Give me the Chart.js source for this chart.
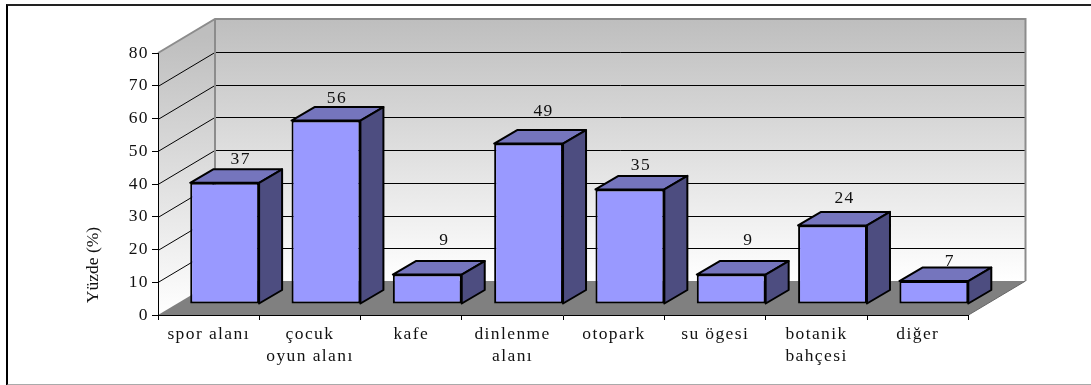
<!DOCTYPE html>
<html lang="tr">
<head>
    <meta charset="UTF-8">
    <title>Yüzde (%)</title>
    <script src="https://cdn.jsdelivr.net/npm/chart.js"></script>
    <style>
        html, body { margin: 0; padding: 0; background: #fff; overflow: hidden; }
        #frame {
            position: absolute; left: 6px; top: 4px; right: 0; height: 378px;
            border-left: 2px solid #000; border-top: 2px solid #222; border-bottom: 2px solid #aaa;
        }
        #myChart { position: absolute; left: 0; top: 0; }
    </style>
</head>
<body>
<div id="frame"></div>
<canvas id="myChart" width="1091" height="385"></canvas>

<script>
    const categories = [
        'spor alanı', ['çocuk', 'oyun alanı'], 'kafe', ['dinlenme', 'alanı'],
        'otopark', 'su ögesi', ['botanik', 'bahçesi'], 'diğer'
    ];
    const values = [37, 56, 9, 49, 35, 9, 24, 7];
    const yTicks = [0, 10, 20, 30, 40, 50, 60, 70, 80];
    // value labels do not sit evenly above the bars in the original
    const labelShiftX = [16, 11, 17, 15, 11, 17, 12, 16];
    const labelShiftY = [10, 9, 21, 19, 10, 21, 13, 6];

    const serif = '"Liberation Serif", "Times New Roman", serif';
    const wallDx = 57, wallDy = 34;   // depth of the floor
    const barDx = 16, barDy = 11;     // front face of bars, from the axis plane
    const sideDx = 23, sideDy = 13.5; // depth of one bar

    function poly(ctx, pts, fill, stroke, lw) {
        ctx.beginPath();
        pts.forEach((p, i) => i ? ctx.lineTo(p[0], p[1]) : ctx.moveTo(p[0], p[1]));
        ctx.closePath();
        if (fill) { ctx.fillStyle = fill; ctx.fill(); }
        if (stroke) { ctx.strokeStyle = stroke; ctx.lineWidth = lw; ctx.stroke(); }
    }

    const box3d = {
        id: 'box3d',
        beforeDraw(chart) {
            const ctx = chart.ctx, a = chart.chartArea, y = chart.scales.y;
            ctx.letterSpacing = '1.4px';
            const l = a.left, r = a.right, t = a.top, b = a.bottom;

            ctx.save();
            const grad = ctx.createLinearGradient(0, t - wallDy, 0, b - wallDy);
            grad.addColorStop(0, '#bebebe');
            grad.addColorStop(1, '#ffffff');
            const sideGrad = ctx.createLinearGradient(0, t - wallDy / 2, 0, b);
            sideGrad.addColorStop(0, '#bebebe');
            sideGrad.addColorStop(1, '#ffffff');

            // walls and floor
            poly(ctx, [[l, t], [l + wallDx, t - wallDy], [l + wallDx, b - wallDy], [l, b]], sideGrad);
            poly(ctx, [[l + wallDx, t - wallDy], [r + wallDx, t - wallDy], [r + wallDx, b - wallDy], [l + wallDx, b - wallDy]], grad);
            poly(ctx, [[l, b], [r, b], [r + wallDx, b - wallDy], [l + wallDx, b - wallDy]], '#808080');

            // grid lines run along both walls
            ctx.strokeStyle = '#000';
            ctx.lineWidth = 1;
            yTicks.forEach(v => {
                if (v === 0 || v === 80) return;
                const py = Math.round(y.getPixelForValue(v)) + 0.5;
                ctx.beginPath();
                ctx.moveTo(l, py);
                ctx.lineTo(l + wallDx, py - wallDy);
                ctx.lineTo(r + wallDx, py - wallDy);
                ctx.stroke();
            });

            // wall edges
            ctx.strokeStyle = '#8c8c8c';
            ctx.lineWidth = 2;
            ctx.beginPath();
            ctx.moveTo(l, t);
            ctx.lineTo(l + wallDx, t - wallDy);
            ctx.lineTo(r + wallDx, t - wallDy);
            ctx.lineTo(r + wallDx, b - wallDy);
            ctx.moveTo(l + wallDx, t - wallDy);
            ctx.lineTo(l + wallDx, b - wallDy);
            ctx.stroke();
            ctx.lineWidth = 1;
            ctx.strokeStyle = '#666';
            ctx.beginPath();
            ctx.moveTo(r, b);
            ctx.lineTo(r + wallDx, b - wallDy);
            ctx.stroke();
            ctx.restore();
        },
        beforeDatasetsDraw(chart) {
            const ctx = chart.ctx;
            ctx.save();
            ctx.translate(barDx, -barDy);
            chart.getDatasetMeta(0).data.forEach(el => {
                const x0 = el.x - el.width / 2, x1 = el.x + el.width / 2;
                ctx.lineJoin = 'round';
                poly(ctx, [[x0, el.y], [x0 + sideDx, el.y - sideDy], [x1 + sideDx, el.y - sideDy], [x1, el.y]], '#7575bd', '#000', 2);
                poly(ctx, [[x1, el.y], [x1 + sideDx, el.y - sideDy], [x1 + sideDx, el.base - sideDy], [x1, el.base]], '#4d4d80', '#000', 2);
            });
        },
        afterDatasetsDraw(chart) {
            const ctx = chart.ctx;
            ctx.restore();
            ctx.save();
            ctx.font = '17.5px ' + serif;
            ctx.fillStyle = '#111';
            ctx.textAlign = 'center';
            ctx.textBaseline = 'middle';
            chart.getDatasetMeta(0).data.forEach((el, i) => {
                const py = el.y - barDy - sideDy - labelShiftY[i];
                ctx.fillText(String(values[i]), el.x + barDx + labelShiftX[i], py);
            });
            // axis title, sits low on the axis
            ctx.letterSpacing = '0px';
            ctx.translate(93, 265);
            ctx.rotate(-Math.PI / 2);
            ctx.fillText('Yüzde (%)', 0, 0);
            ctx.restore();
        }
    };

    new Chart(document.getElementById('myChart'), {
        type: 'bar',
        data: {
            labels: categories,
            datasets: [{
                data: values,
                backgroundColor: '#9999ff',
                borderColor: '#000',
                borderWidth: 2,
                borderSkipped: false,
                barPercentage: 0.68,
                categoryPercentage: 1
            }]
        },
        options: {
            responsive: false,
            animation: false,
            layout: { padding: { left: 100, top: 53, right: 122.5, bottom: 9 } },
            plugins: { legend: { display: false }, tooltip: { enabled: false } },
            scales: {
                x: {
                    afterFit(s) { s.height = 61; },
                    grid: { drawOnChartArea: false, color: '#000', tickLength: 5 },
                    border: { color: '#000', width: 1 },
                    ticks: {
                        color: '#111', maxRotation: 0, autoSkip: false, padding: 3,
                        font: { family: serif, size: 17.5, lineHeight: 1.26 }
                    }
                },
                y: {
                    min: 0, max: 80,
                    afterFit(s) { s.width = 58; },
                    afterBuildTicks(s) { s.ticks = yTicks.map(v => ({ value: v })); },
                    grid: { drawOnChartArea: false, color: '#000', tickLength: 6 },
                    border: { color: '#000', width: 1 },
                    ticks: {
                        color: '#111', padding: 3,
                        font: { family: serif, size: 17.5 }
                    }
                }
            }
        },
        plugins: [box3d]
    });
</script>
</body>
</html>
